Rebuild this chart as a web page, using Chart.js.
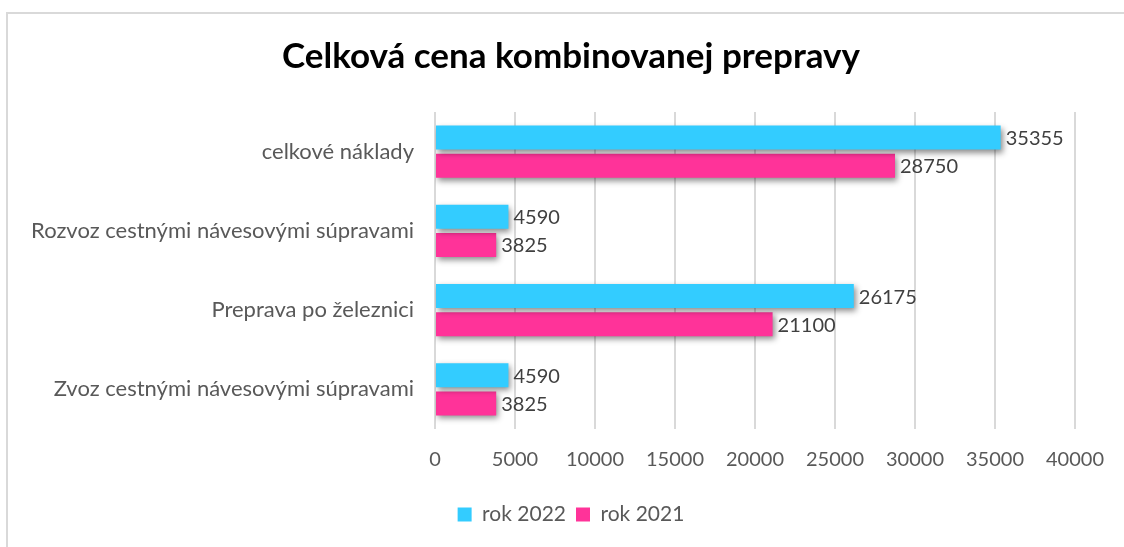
<!DOCTYPE html>
<html>
<head>
<meta charset="utf-8">
<script src="https://cdn.jsdelivr.net/npm/chart.js@4.4.0/dist/chart.umd.min.js"></script>
<style>
  html, body { margin: 0; padding: 0; background: #fff; overflow: hidden; }
  #wrap { width: 1124px; height: 547px; overflow: hidden; }
</style>
</head>
<body>
<div id="wrap"><canvas id="myChart" width="1142" height="547"></canvas></div>
<script>
var categories = ['celkové náklady', 'Rozvoz cestnými návesovými súpravami', 'Preprava po železnici', 'Zvoz cestnými návesovými súpravami'];
var values2022 = [35355, 4590, 26175, 4590];
var values2021 = [28750, 3825, 21100, 3825];
var seriesNames = ['rok 2022', 'rok 2021'];
var xTicks = [0, 5000, 10000, 15000, 20000, 25000, 30000, 35000, 40000];

var FONT = 'Lato, "Open Sans", sans-serif';

// frame, shadow under bars, value labels
var barExtras = {
	id: 'barExtras',
	beforeDraw: function(chart) {
		var ctx = chart.ctx;
		ctx.save();
		ctx.strokeStyle = '#d9d9d9';
		ctx.lineWidth = 2;
		ctx.strokeRect(7, 13, 1160, 600);
		ctx.restore();
	},
	beforeDatasetsDraw: function(chart) {
		var ctx = chart.ctx;
		ctx.save();
		ctx.shadowColor = 'rgba(0,0,0,0.45)';
		ctx.shadowBlur = 6;
		ctx.shadowOffsetX = 2;
		ctx.shadowOffsetY = 3;
	},
	afterDatasetsDraw: function(chart) {
		var ctx = chart.ctx;
		ctx.restore();
		ctx.save();
		ctx.font = '20px ' + FONT;
		ctx.fillStyle = '#404040';
		ctx.textAlign = 'left';
		ctx.textBaseline = 'middle';
		chart.data.datasets.forEach(function(ds, i) {
			chart.getDatasetMeta(i).data.forEach(function(bar, j) {
				ctx.fillText(ds.data[j], bar.x + 5, bar.y + 1);
			});
		});
		ctx.restore();
	}
};

var ctx = document.getElementById('myChart');
var myChart = new Chart(ctx, {
	type: 'bar',
	data: {
		labels: categories,
		datasets: [
			{ label: seriesNames[0], data: values2022, backgroundColor: '#33CCFF', barPercentage: 0.857, categoryPercentage: 0.709 },
			{ label: seriesNames[1], data: values2021, backgroundColor: '#FF3399', barPercentage: 0.857, categoryPercentage: 0.709 }
		]
	},
	options: {
		indexAxis: 'y',
		responsive: false,
		animation: false,
		layout: { padding: { left: 0, right: 0, top: 0, bottom: 12 } },
		plugins: {
			title: {
				display: true,
				text: 'Celková cena kombinovanej prepravy',
				color: '#000',
				font: { family: FONT, size: 35, weight: 'bold' },
				padding: { top: 36, bottom: 34 }
			},
			legend: {
				position: 'bottom',
				labels: {
					color: '#595959',
					font: { family: FONT, size: 21 },
					boxWidth: 14,
					boxHeight: 14,
					padding: 10
				}
			},
			tooltip: { enabled: false }
		},
		scales: {
			x: {
				min: 0,
				max: 40000,
				afterBuildTicks: function(scale) {
					scale.ticks = xTicks.map(function(v) { return { value: v }; });
				},
				afterFit: function(scale) { scale.height = 65; },
				grid: { color: '#d9d9d9', lineWidth: 2, drawTicks: false },
				border: { display: false },
				ticks: {
					color: '#595959',
					padding: 19,
					font: { family: FONT, size: 20 },
					callback: function(value) { return String(value); }
				}
			},
			y: {
				afterFit: function(scale) { scale.width = 435; },
				grid: { display: false, drawTicks: false },
				border: { display: false },
				ticks: { color: '#595959', padding: 21, font: { family: FONT, size: 22 } }
			},
			yRight: {
				type: 'category',
				position: 'right',
				afterFit: function(scale) { scale.width = 67; },
				grid: { display: false, drawTicks: false },
				border: { display: false },
				ticks: { display: false }
			}
		}
	},
	plugins: [barExtras]
});
</script>
</body>
</html>
